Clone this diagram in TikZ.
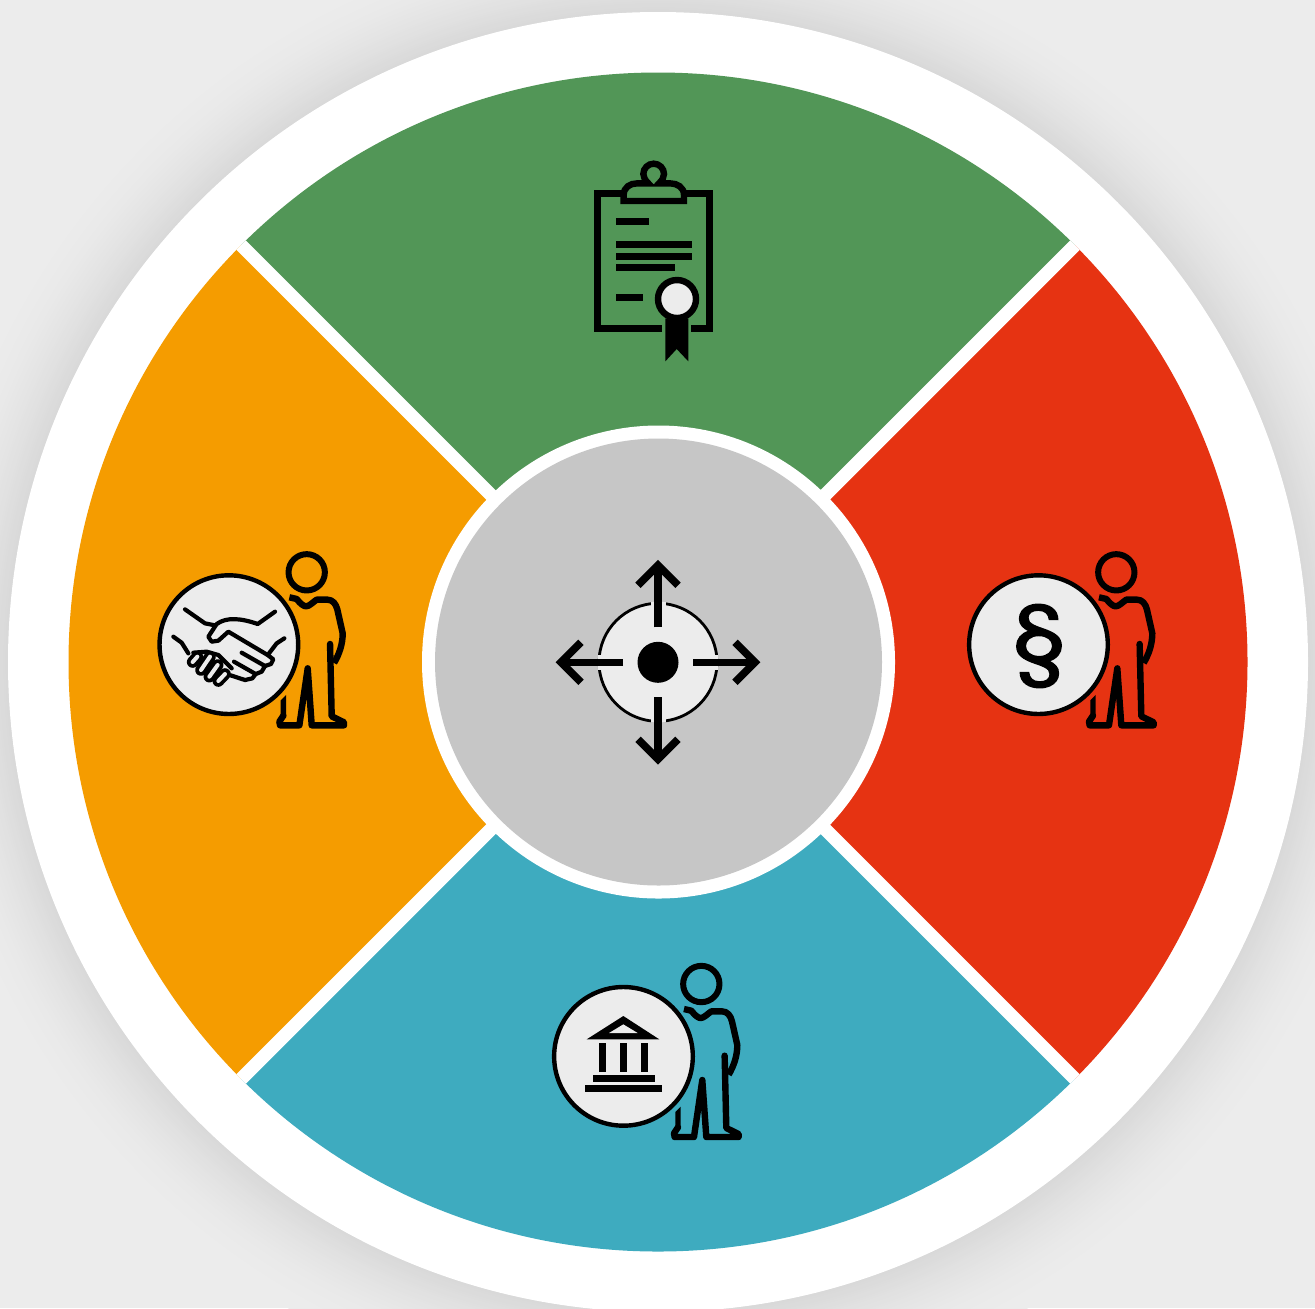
\documentclass[tikz,border=0pt]{standalone}
\usepackage{fontspec}
\newfontfamily\sectfont[FakeBold=1.5]{Poppins}
\definecolor{bgcol}{HTML}{ECECEC}
\definecolor{shcol}{HTML}{D8D8D8}
\definecolor{greencol}{HTML}{529657}
\definecolor{redcol}{HTML}{E63312}
\definecolor{orangecol}{HTML}{F59C00}
\definecolor{tealcol}{HTML}{3EABBF}
\definecolor{graycol}{HTML}{C6C6C6}
\tikzset{
  px/.style={x=0.5pt,y=-0.5pt},
  zoomscope/.style={x=0.16667pt,y=-0.16667pt},
  iconline/.style={draw=black,line width=3.2pt,line cap=round,line join=round},
  handline/.style={draw=black,line width=2.1pt,line cap=round,line join=round},
  disc/.style={draw=black,fill=bgcol,line width=2.2pt},
}
\newcommand{\personfig}[2]{%
\begin{scope}[shift={(#1,#2)},zoomscope]
  \draw[line width=3pt] (0,0) circle (54.5);
  \draw[iconline,line cap=butt]
    (-52,75) -- (-30,80) .. controls (-18,96) and (-8,102) .. (-2,102) .. controls (8,102) and (18,90) .. (30,82) -- (62,82)
    .. controls (78,82) and (88,95) .. (92,112) -- (108,183) .. controls (108,215) and (98,245) .. (82,272);
  \draw[iconline]
    (-70,430) -- (-82,448) -- (-80,459) -- (-22,459) -- (3,288) -- (15,459) -- (112,459) -- (112,450) -- (75,432) -- (70,215);
  \fill (-62,368) -- (-62,435) -- (-78,435) -- (-78,384) -- cycle;
  \draw[disc] (-233.5,217) circle (208);
\end{scope}}
\begin{document}
\begin{tikzpicture}[px]
\useasboundingbox (0,0) rectangle (1315,1308);
\fill[bgcol] (0,0) rectangle (1315,1308);
% soft shadow round the ring
\foreach \i in {0,...,45}{
  \pgfmathsetmacro{\rr}{650+(45-\i)*2.1}
  \pgfmathsetmacro{\mm}{100*(\i/45)*(\i/45)}
  \fill[shcol!\mm!bgcol] (658,662) circle (\rr);
}
\fill[white] (658,662) circle (650);
% sectors
\begin{scope}
  \clip (658,662) circle (589.5);
  \fill[greencol]  (658,662) -- (-242,-238) -- (1558,-238) -- cycle;
  \fill[redcol]    (658,662) -- (1558,-238) -- (1558,1562) -- cycle;
  \fill[tealcol]   (658,662) -- (1558,1562) -- (-242,1562) -- cycle;
  \fill[orangecol] (658,662) -- (-242,1562) -- (-242,-238) -- cycle;
  \draw[white,line width=6.7pt] (-242,-238) -- (1558,1562);
  \draw[white,line width=6.7pt] (1558,-238) -- (-242,1562);
\end{scope}
\fill[white] (658.5,662) circle (236.5);
\fill[graycol] (658.5,662) circle (223.5);
% centre icon
\begin{scope}[shift={(658,662.3)}]
  \draw[black,fill=bgcol,line width=1.4pt] (0,0) circle (59);
  \begin{scope}
    \clip (0,0) circle (60.6);
    \fill[bgcol] (-7.5,-64) rectangle (7.5,-50);
    \fill[bgcol] (-7.5,64) rectangle (7.5,50);
    \fill[bgcol] (-64,-7.5) rectangle (-50,7.5);
    \fill[bgcol] (64,-7.5) rectangle (50,7.5);
  \end{scope}
  \fill[black] (0,0) circle (20.5);
  \foreach \a in {0,90,180,270}{
    \begin{scope}[rotate=\a]
      \draw[line width=3.8pt] (0,-35) -- (0,-97);
      \draw[line width=3.8pt,miter limit=4] (-20,-77) -- (0,-97) -- (20,-77);
    \end{scope}
  }
\end{scope}
% clipboard icon
\begin{scope}[shift={(580,150)},zoomscope]
  \draw[line width=3.2pt,line join=miter] (131,131) -- (53,131) -- (53,536) -- (247,536);
  \draw[line width=3.2pt,line join=miter] (312,131) -- (389,131) -- (389,536) -- (333,536);
  \draw[line width=3.2pt,line join=miter]
    (131,153) -- (131,135) .. controls (131,112) and (150,100) .. (172,100) -- (205,100)
    .. controls (195,90) and (190,82) .. (190,72) .. controls (190,55) and (204,41) .. (221,41)
    .. controls (238,41) and (252,55) .. (252,72) .. controls (252,82) and (247,90) .. (237,100)
    -- (270,100) .. controls (292,100) and (312,112) .. (312,135) -- (312,153) -- cycle;
  \fill (108,204) rectangle (207,225);
  \fill (108,273) rectangle (336,294);
  \fill (108,309) rectangle (336,330);
  \fill (108,342) rectangle (285,363);
  \fill (108,432) rectangle (189,453);
  \fill (256,505) -- (325,505) -- (325,634) -- (290,597) -- (256,634) -- cycle;
  \draw[line width=3.2pt,fill=bgcol] (291,447) circle (57);
\end{scope}
% people with discs
\personfig{306.7}{572.3}
\personfig{1116.3}{572.3}
\personfig{701.3}{984}
% paragraph sign
\node[inner sep=0pt,font=\sectfont\fontsize{46pt}{46pt}\selectfont] (sect) at (1039,646) {§};
% bank icon
\begin{scope}[shift={(540,955)},zoomscope]
  \fill (140,253) -- (250,183) -- (358,253) -- cycle;
  \fill[bgcol] (207,234) -- (250,208) -- (293,234) -- cycle;
  \fill (177,264) rectangle (198,351);
  \fill (240,264) rectangle (261,351);
  \fill (303,264) rectangle (324,351);
  \fill (159,360) rectangle (344,380);
  \fill (135,390) rectangle (366,411);
\end{scope}
% handshake icon
\begin{scope}[shift={(165,600)},zoomscope]
  \draw[handline] (60,28) -- (120,70) -- (150,76);
  \draw[handline] (330,35) -- (278,72) .. controls (230,55) and (185,50) .. (155,72)
     -- (130,110) -- (140,125) -- (160,122) -- (190,95) -- (308,165) -- (325,178) -- (318,192) -- (300,198);
  \draw[handline] (230,158) -- (300,198) -- (290,215) -- (272,222) -- (207,185);
  \draw[handline] (272,222) -- (262,235) -- (240,240) -- (197,226);
  \draw[handline] (358,115) -- (335,130) -- (312,160);
  \draw[handline] (25,110) -- (50,128) -- (70,160);
  \draw[handline] (85,158) -- (125,155) -- (160,165) -- (200,205);
  \foreach \xa/\ya/\xb/\yb in {83/186/97/170,108/210/135/170,133/230/158/195,160/243/180/222}{
    \draw[black,line width=5.8pt,line cap=round] (\xa,\ya) -- (\xb,\yb);
  }
  \foreach \xa/\ya/\xb/\yb in {83/186/97/170,108/210/135/170,133/230/158/195,160/243/180/222}{
    \draw[bgcol,line width=2pt,line cap=round] (\xa,\ya) -- (\xb,\yb);
  }
\end{scope}
\end{tikzpicture}
\end{document}
